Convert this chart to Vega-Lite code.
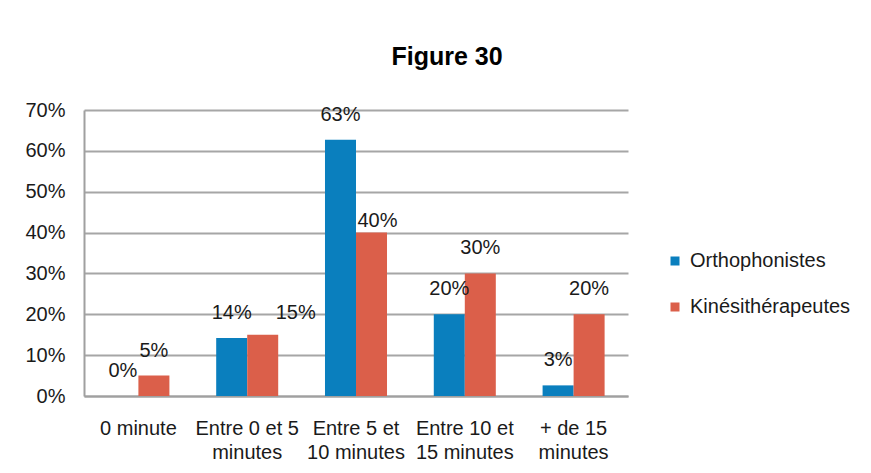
{
  "$schema": "https://vega.github.io/schema/vega-lite/v6.json",
  "width": 544,
  "height": 286,
  "autosize": {"type": "none"},
  "padding": {"left": 84, "top": 110, "right": 243, "bottom": 77},
  "background": "white",
  "title": {
    "text": "Figure 30",
    "font": "Liberation Sans",
    "fontSize": 25,
    "fontWeight": "bold",
    "color": "#000000",
    "anchor": "middle",
    "frame": "group",
    "dx": 91,
    "offset": 30
  },
  "config": {
    "view": {"stroke": null},
    "font": "Liberation Sans"
  },
  "data": {
    "values": [
      {"duree": "0 minute", "groupe": "Orthophonistes", "part": 0},
      {"duree": "0 minute", "groupe": "Kinésithérapeutes", "part": 0.05},
      {"duree": "Entre 0 et 5 minutes", "groupe": "Orthophonistes", "part": 0.142},
      {"duree": "Entre 0 et 5 minutes", "groupe": "Kinésithérapeutes", "part": 0.15},
      {"duree": "Entre 5 et 10 minutes", "groupe": "Orthophonistes", "part": 0.627},
      {"duree": "Entre 5 et 10 minutes", "groupe": "Kinésithérapeutes", "part": 0.4},
      {"duree": "Entre 10 et 15 minutes", "groupe": "Orthophonistes", "part": 0.2},
      {"duree": "Entre 10 et 15 minutes", "groupe": "Kinésithérapeutes", "part": 0.3},
      {"duree": "+ de 15 minutes", "groupe": "Orthophonistes", "part": 0.026},
      {"duree": "+ de 15 minutes", "groupe": "Kinésithérapeutes", "part": 0.2}
    ]
  },
  "encoding": {
    "x": {
      "field": "duree",
      "type": "nominal",
      "sort": null,
      "scale": {"paddingInner": 0.43, "paddingOuter": 0.215},
      "axis": {
        "title": null,
        "labelAngle": 0,
        "labelFontSize": 20,
        "labelColor": "#1a1a1a",
        "labelPadding": 22,
        "labelLineHeight": 24,
        "labelLimit": 200,
        "ticks": false,
        "domainColor": "#a0a0a0",
        "domainWidth": 2,
        "labelExpr": "datum.value == 'Entre 0 et 5 minutes' ? ['Entre 0 et 5','minutes'] : datum.value == 'Entre 5 et 10 minutes' ? ['Entre 5 et','10 minutes'] : datum.value == 'Entre 10 et 15 minutes' ? ['Entre 10 et','15 minutes'] : datum.value == '+ de 15 minutes' ? ['+ de 15','minutes'] : datum.value"
      }
    },
    "xOffset": {
      "field": "groupe",
      "type": "nominal",
      "sort": ["Orthophonistes", "Kinésithérapeutes"],
      "scale": {"paddingInner": 0, "paddingOuter": 0}
    },
    "y": {
      "field": "part",
      "type": "quantitative",
      "scale": {"domain": [0, 0.7], "nice": false},
      "axis": {
        "title": null,
        "format": ".0%",
        "values": [0, 0.1, 0.2, 0.3, 0.4, 0.5, 0.6, 0.7],
        "labelFontSize": 20,
        "labelColor": "#1a1a1a",
        "labelPadding": 19,
        "ticks": false,
        "domainColor": "#a0a0a0",
        "domainWidth": 2,
        "grid": true,
        "gridColor": "#a6a6a6",
        "gridWidth": 1.8
      }
    }
  },
  "layer": [
    {
      "mark": {"type": "bar"},
      "encoding": {
        "color": {
          "field": "groupe",
          "type": "nominal",
          "scale": {
            "domain": ["Orthophonistes", "Kinésithérapeutes"],
            "range": ["#0a7fbe", "#db5f4a"]
          },
          "legend": {
            "title": null,
            "orient": "none",
            "legendX": 581,
            "legendY": 141,
            "symbolType": "square",
            "symbolSize": 81,
            "symbolStrokeWidth": 0,
            "labelFontSize": 20,
            "labelColor": "#1a1a1a",
            "labelOffset": 5,
            "rowPadding": 26,
            "labelLimit": 300
          }
        }
      }
    },
    {
      "transform": [
        {"filter": "!((datum.duree == 'Entre 0 et 5 minutes' || datum.duree == 'Entre 5 et 10 minutes') && datum.groupe == 'Kinésithérapeutes')"}
      ],
      "mark": {"type": "text", "fontSize": 20, "color": "#1a1a1a", "baseline": "middle", "dy": -25},
      "encoding": {"text": {"field": "part", "type": "quantitative", "format": ".0%"}}
    },
    {
      "transform": [
        {"filter": "datum.duree == 'Entre 0 et 5 minutes' && datum.groupe == 'Kinésithérapeutes'"}
      ],
      "mark": {"type": "text", "fontSize": 20, "color": "#1a1a1a", "baseline": "middle", "dy": -22, "dx": 33},
      "encoding": {"text": {"field": "part", "type": "quantitative", "format": ".0%"}}
    },
    {
      "transform": [
        {"filter": "datum.duree == 'Entre 5 et 10 minutes' && datum.groupe == 'Kinésithérapeutes'"}
      ],
      "mark": {"type": "text", "fontSize": 20, "color": "#1a1a1a", "baseline": "middle", "dy": -12, "dx": 6},
      "encoding": {"text": {"field": "part", "type": "quantitative", "format": ".0%"}}
    }
  ]
}
